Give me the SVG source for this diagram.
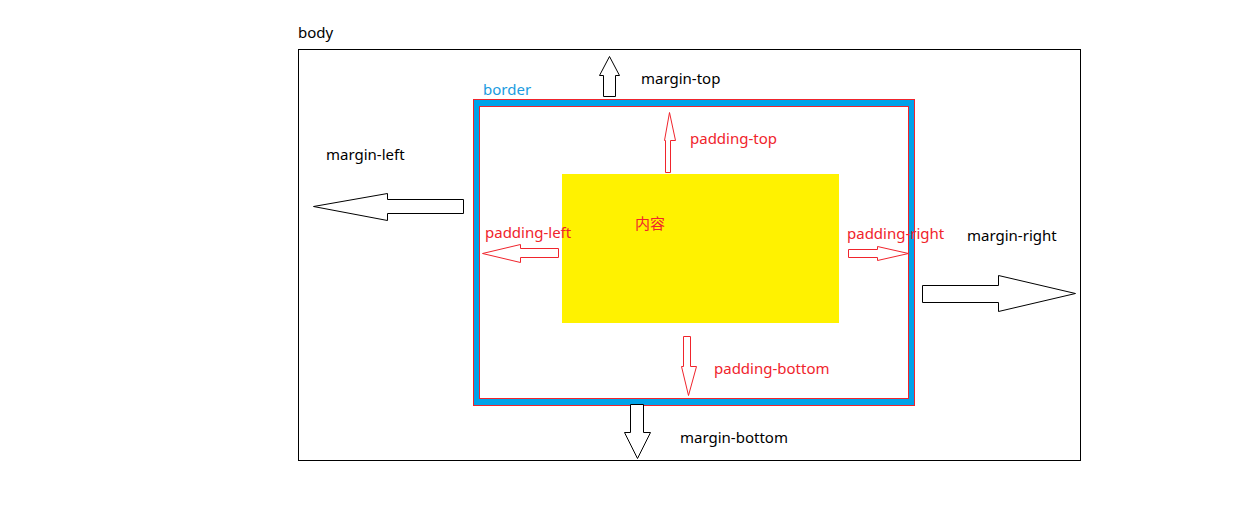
<svg xmlns="http://www.w3.org/2000/svg" width="1248" height="519" viewBox="0 0 1248 519">
<style>
text{font-family:"Noto Sans","Noto Sans CJK SC",sans-serif;font-size:15px}
.k{fill:#000}.r{fill:#f0242c}.b{fill:#1a9be0}
.ka{fill:#fff;stroke:#000;stroke-width:1}
.ra{fill:#fff;stroke:#f0242c;stroke-width:1}
</style>
<rect width="1248" height="519" fill="#fff"/>
<g id="body"><rect x="298.5" y="49.5" width="782" height="411" fill="#fff" stroke="#000"/><text class="k" x="298" y="38">body</text></g>
<g id="border"><rect x="473.5" y="99.5" width="441" height="306" fill="#00a2e8" stroke="#f0242c"/><text class="b" x="483" y="95">border</text></g>
<g id="padding"><rect x="479.5" y="106.5" width="429" height="292" fill="#fff" stroke="#f0242c"/></g>
<g id="content"><rect x="562" y="174" width="277" height="149" fill="#fff200"/><text class="r" x="635" y="229">内容</text></g>
<g id="connectors">
<polygon class="ka" points="603.5,96.5 615.5,96.5 615.5,75.5 619.5,75.5 609.5,56.5 599.5,75.5 603.5,75.5"/>
<polygon class="ra" points="665.5,172.5 670.5,172.5 670.5,140.5 675.5,140.5 669.5,112.5 664.5,140.5 665.5,140.5"/>
<polygon class="ra" points="558.5,248.5 520.5,248.5 520.5,244.5 482.5,253.5 520.5,262.5 520.5,257.5 558.5,257.5"/>
<polygon class="ra" points="848.5,249.5 877.5,249.5 877.5,246.5 908.5,253.5 877.5,260.5 877.5,257.5 848.5,257.5"/>
<polygon class="ra" points="683.5,336.5 690.5,336.5 690.5,366.5 696.5,366.5 688.5,395.5 681.5,366.5 683.5,366.5"/>
<polygon class="ka" points="630.5,404.5 643.5,404.5 643.5,432.5 650.5,432.5 637.5,458.5 624.5,432.5 630.5,432.5"/>
<polygon class="ka" points="463.5,199.5 387.5,199.5 387.5,193.5 313.5,206.5 387.5,220.5 387.5,213.5 463.5,213.5"/>
<polygon class="ka" points="922.5,285.5 998.5,285.5 998.5,275.5 1075.5,293.5 998.5,311.5 998.5,302.5 922.5,302.5"/>
</g>
<g id="labels">
<text class="k" x="641" y="84">margin-top</text>
<text class="r" x="690" y="144">padding-top</text>
<text class="k" x="326" y="160">margin-left</text>
<text class="r" x="485" y="238">padding-left</text>
<text class="r" x="847" y="239">padding-right</text>
<text class="k" x="967" y="241">margin-right</text>
<text class="r" x="714" y="374">padding-bottom</text>
<text class="k" x="680" y="443">margin-bottom</text>
</g>
</svg>
